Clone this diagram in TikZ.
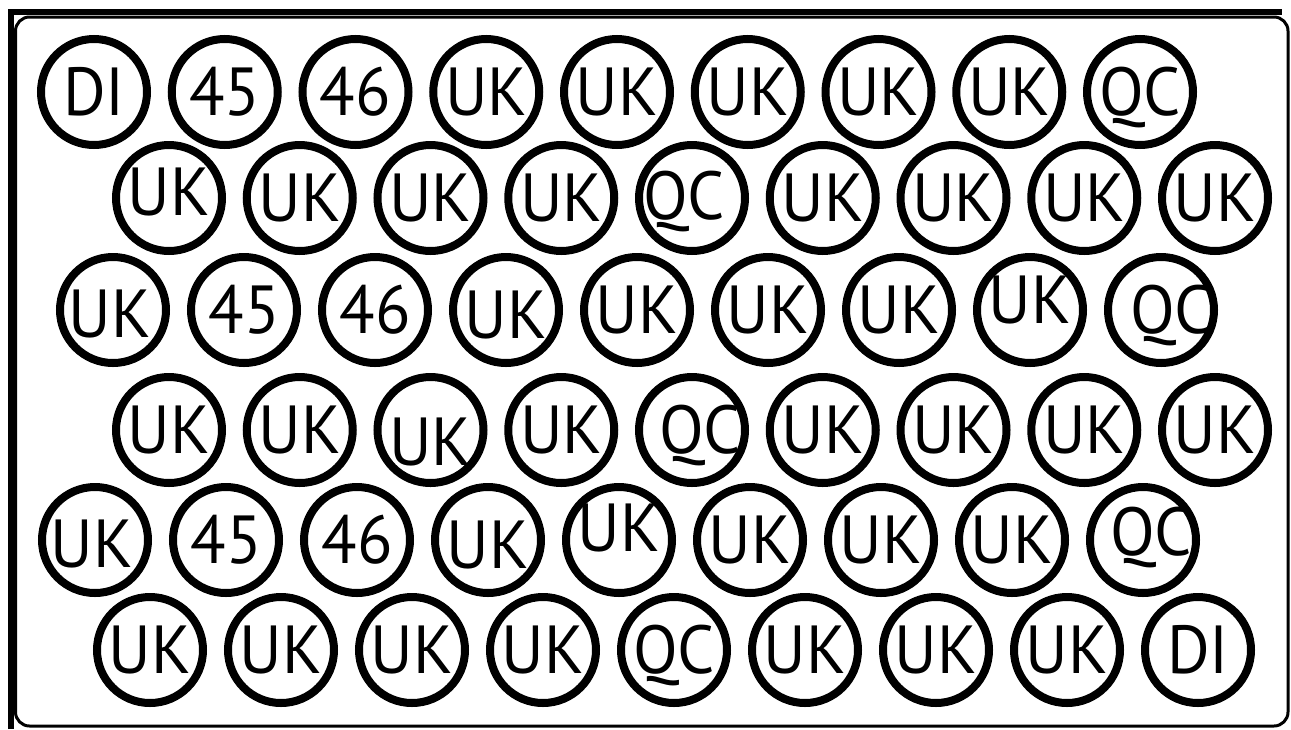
\documentclass[tikz,border=0pt]{standalone}
\usepackage{fontspec}
\setmainfont{PT Sans}
\usetikzlibrary{calc}
\tikzset{
    stamp/.style={circle, draw=black, line width=8pt, minimum size=106pt, inner sep=0pt},
    stamptext/.style={inner sep=0pt, text height=47pt, text depth=0pt, xscale=0.96, font=\fontsize{68}{68}\selectfont},
    frameline/.style={draw=black, line width=6pt}
}
\begin{document}
\begin{tikzpicture}[x=1pt, y=-1pt]
    \useasboundingbox (0,0) rectangle (1291,729);
    % outer frame and inner card
    \draw[frameline] (11,729) -- (11,12) -- (1282,12);
    \draw[line width=3pt, rounded corners=14pt] (15.5,17) rectangle (1288,726);
    % row 1
    \foreach \lab/\dx/\dy [count=\i from 0] in {DI/0/0, 45/0/0, 46/0/0, UK/0/0, UK/0/0, UK/0/0, UK/0/0, UK/0/0, QC/0/0} {
        \node[stamp] (r1c\i) at (94+130.75*\i, 92) {};
        \node[stamptext] (r1t\i) at ($(r1c\i)+(\dx,\dy)$) {\lab};
    }
    % row 2
    \foreach \lab/\dx/\dy [count=\i from 0] in {UK/0/-6, UK/0/0, UK/0/0, UK/0/0, QC/-8/-2, UK/0/0, UK/0/0, UK/0/0, UK/0/0} {
        \node[stamp] (r2c\i) at (169+130.75*\i, 198) {};
        \node[stamptext] (r2t\i) at ($(r2c\i)+(\dx,\dy)$) {\lab};
    }
    % row 3
    \foreach \lab/\dx/\dy [count=\i from 0] in {UK/-3/4, 45/0/0, 46/0/0, UK/0/5, UK/0/0, UK/0/0, UK/0/0, UK/0/-10, QC/10/0} {
        \node[stamp] (r3c\i) at (113+131*\i, 310) {};
        \node[stamptext] (r3t\i) at ($(r3c\i)+(\dx,\dy)$) {\lab};
    }
    % row 4
    \foreach \lab/\dx/\dy [count=\i from 0] in {UK/0/0, UK/0/0, UK/0/12, UK/0/0, QC/8/0, UK/0/0, UK/0/0, UK/0/0, UK/0/0} {
        \node[stamp] (r4c\i) at (169+130.75*\i, 430) {};
        \node[stamptext] (r4t\i) at ($(r4c\i)+(\dx,\dy)$) {\lab};
    }
    % row 5
    \foreach \lab/\dx/\dy [count=\i from 0] in {UK/-3/4, 45/0/0, 46/0/0, UK/0/5, UK/0/-12, UK/0/0, UK/0/0, UK/0/0, QC/8/-8} {
        \node[stamp] (r5c\i) at (95+131*\i, 540) {};
        \node[stamptext] (r5t\i) at ($(r5c\i)+(\dx,\dy)$) {\lab};
    }
    % row 6
    \foreach \lab/\dx/\dy [count=\i from 0] in {UK/0/0, UK/0/0, UK/0/0, UK/0/0, QC/0/0, UK/0/0, UK/0/0, UK/0/0, DI/0/0} {
        \node[stamp] (r6c\i) at (150+131*\i, 650) {};
        \node[stamptext] (r6t\i) at ($(r6c\i)+(\dx,\dy)$) {\lab};
    }
\end{tikzpicture}
\end{document}
